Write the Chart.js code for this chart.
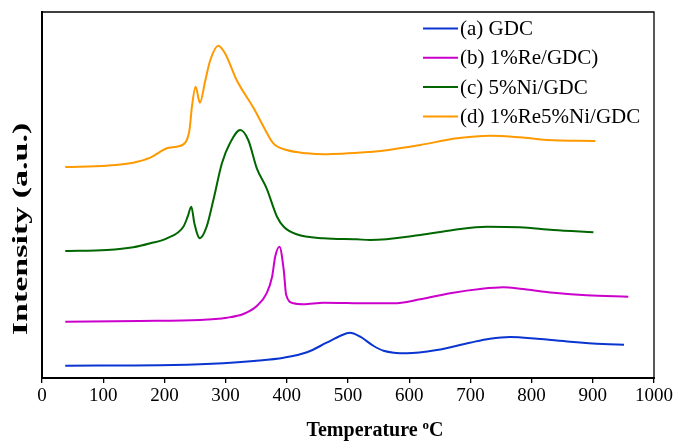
<!DOCTYPE html>
<html>
<head>
<meta charset="utf-8">
<script src="https://cdn.jsdelivr.net/npm/chart.js@4/dist/chart.umd.min.js"></script>
<style>
  html, body { margin: 0; padding: 0; background: #fff; }
  #wrap { width: 678px; height: 441px; }
</style>
</head>
<body>
<div id="wrap"><canvas id="c" width="678" height="441"></canvas></div>
<script>
// H2-TPR profiles: temperature (°C) and intensity (a.u., offset per sample)
const seriesLabels = ['(a) GDC', '(b) 1%Re/GDC)', '(c) 5%Ni/GDC', '(d) 1%Re5%Ni/GDC'];
const seriesColors = ['#0a35d0', '#cc00cc', '#006600', '#ff9900'];

const gdcTemp = [38, 215, 296, 346, 395, 433, 465, 487, 503, 520, 542, 558, 596, 645, 699, 732, 765, 809, 863, 917, 951];
const gdcInt  = [12.3, 13, 14.7, 17, 20.3, 25.7, 35.3, 42, 45.3, 41.3, 32, 27.3, 24.7, 28, 35.3, 39.3, 41, 39.3, 36.3, 34, 33.3];

const reTemp = [38, 160, 258, 302, 329, 351, 367, 376, 381, 388, 395, 399, 411, 427, 460, 536, 574, 618, 672, 716, 754, 781, 836, 890, 958];
const reInt  = [56.3, 57, 58, 60.3, 64, 72, 84.7, 101.3, 121.3, 131.3, 108, 83, 74.7, 73.7, 75.3, 74.7, 74.7, 78.7, 85.3, 89, 90.7, 89.3, 85.3, 82.7, 81.3];

const niTemp = [38, 106, 149, 177, 204, 231, 238, 244, 249, 258, 269, 280, 294, 307, 324, 337, 351, 367, 384, 395, 416, 460, 514, 536, 618, 672, 727, 781, 835, 901];
const niInt  = [127, 128, 130.7, 134.7, 139.7, 151.3, 161.3, 171.3, 154.7, 139.7, 151.3, 178, 214.7, 234.7, 248, 238, 209.7, 189.7, 161.3, 151.3, 143.7, 139.7, 138.7, 138, 143, 148, 151.3, 150.7, 148, 145.7];

const reNiTemp = [38, 106, 149, 177, 204, 220, 234, 241, 245, 251, 258, 267, 275, 288, 299, 318, 346, 362, 378, 400, 433, 460, 536, 553, 618, 678, 732, 781, 825, 904];
const reNiInt  = [211, 212.3, 215.3, 220.3, 229.7, 231.3, 235.3, 248, 271.3, 291.3, 275.3, 298, 318, 332.3, 324.7, 298, 269.7, 251.3, 234.7, 228, 224.7, 223.7, 226, 227, 233, 239.7, 242.3, 240.7, 238, 237];

const xTicks = [0, 100, 200, 300, 400, 500, 600, 700, 800, 900, 1000];

const toPoints = (xs, ys) => xs.map((x, i) => ({ x: x, y: ys[i] }));
const seriesData = [
  toPoints(gdcTemp, gdcInt),
  toPoints(reTemp, reInt),
  toPoints(niTemp, niInt),
  toPoints(reNiTemp, reNiInt)
];

const SERIF = "'Liberation Serif', 'Times New Roman', serif";

// Frame, legend and axis titles
const decor = {
  id: 'decor',
  afterDraw(chart) {
    const { ctx, chartArea: a } = chart;
    ctx.save();
    ctx.strokeStyle = '#000';
    ctx.lineCap = 'square';
    // top and right edges (thin)
    ctx.lineWidth = 1.3;
    ctx.beginPath();
    ctx.moveTo(a.left, a.top); ctx.lineTo(a.right, a.top); ctx.lineTo(a.right, a.bottom);
    ctx.stroke();
    // left and bottom axes (heavier)
    ctx.lineWidth = 2;
    ctx.beginPath();
    ctx.moveTo(a.left, a.top); ctx.lineTo(a.left, a.bottom); ctx.lineTo(a.right, a.bottom);
    ctx.stroke();

    // legend
    ctx.font = '21px ' + SERIF;
    ctx.textBaseline = 'middle';
    ctx.textAlign = 'left';
    chart.data.datasets.forEach((ds, i) => {
      const y = 28.5 + i * 29.3;
      ctx.strokeStyle = ds.borderColor;
      ctx.lineWidth = 2;
      ctx.lineCap = 'butt';
      ctx.beginPath(); ctx.moveTo(423, y); ctx.lineTo(458, y); ctx.stroke();
      ctx.fillStyle = '#000';
      ctx.fillText(ds.label, 460, y + 1);
    });

    // x-axis title with superscript degree "o"
    ctx.fillStyle = '#000';
    ctx.textBaseline = 'alphabetic';
    const big = 'bold 20px ' + SERIF, small = 'bold 13px ' + SERIF;
    ctx.font = big; const w1 = ctx.measureText('Temperature ').width;
    ctx.font = small; const w2 = ctx.measureText('o').width;
    ctx.font = big; const w3 = ctx.measureText('C').width;
    let x = 375 - (w1 + w2 + w3) / 2;
    const base = 436;
    ctx.font = big; ctx.fillText('Temperature ', x, base); x += w1;
    ctx.font = small; ctx.fillText('o', x, base - 7); x += w2;
    ctx.font = big; ctx.fillText('C', x, base);

    // y-axis title, drawn elongated along its baseline
    ctx.save();
    ctx.translate(27, 229);
    ctx.rotate(-Math.PI / 2);
    ctx.scale(1.7, 1);
    ctx.font = 'bold 20px ' + SERIF;
    ctx.textAlign = 'center';
    ctx.fillText('Intensity (a.u.)', 0, 0);
    ctx.restore();
    ctx.restore();
  }
};

new Chart(document.getElementById('c'), {
  type: 'line',
  data: {
    datasets: seriesData.map((pts, i) => ({
      label: seriesLabels[i],
      data: pts,
      borderColor: seriesColors[i],
      backgroundColor: seriesColors[i],
      borderWidth: 2,
      pointRadius: 0,
      fill: false,
      cubicInterpolationMode: 'monotone'
    }))
  },
  options: {
    responsive: false,
    animation: false,
    layout: { padding: { left: 42, right: 24, top: 12, bottom: 0 } },
    plugins: { legend: { display: false }, tooltip: { enabled: false } },
    scales: {
      x: {
        type: 'linear',
        min: 0, max: 1000,
        afterBuildTicks: (s) => { s.ticks = xTicks.map(v => ({ value: v })); },
        afterFit: (s) => { s.height = 63; },
        ticks: {
          color: '#000', font: { family: SERIF, size: 19 }, padding: 2,
          maxRotation: 0, autoSkip: false,
          callback: (v) => String(v)
        },
        grid: { display: true, drawOnChartArea: false, drawTicks: true, tickLength: 5, color: '#000', lineWidth: 1.3 },
        border: { display: false }
      },
      y: { display: false, min: 0, max: 366 }
    }
  },
  plugins: [decor]
});
</script>
</body>
</html>
